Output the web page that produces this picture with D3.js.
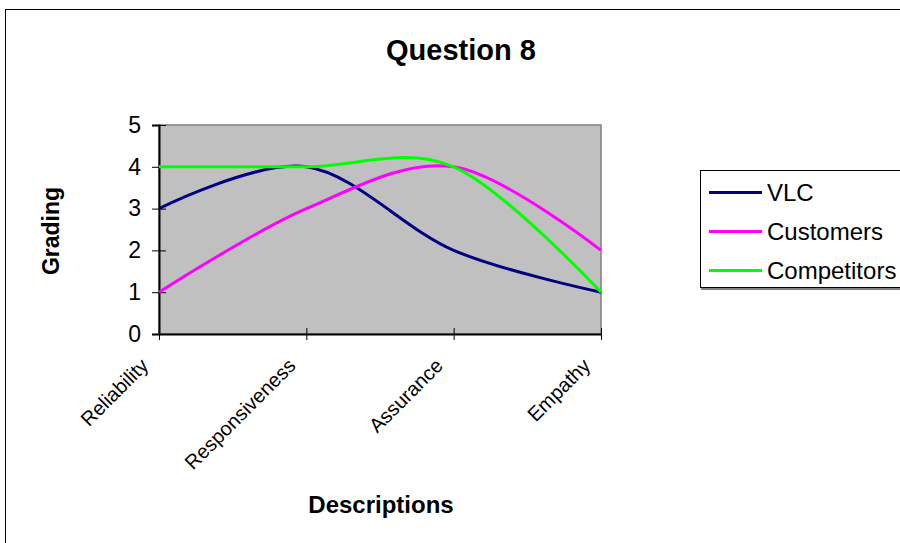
<!DOCTYPE html>
<html>
<head>
<meta charset="utf-8">
<script src="https://cdn.jsdelivr.net/npm/d3@7/dist/d3.min.js"></script>
<style>
  body { margin: 0; background: #fff; }
  svg { display: block; font-family: "Liberation Sans", Arial, sans-serif; }
</style>
</head>
<body>
<div id="chart"></div>
<script>
// data
const categories  = ['Reliability', 'Responsiveness', 'Assurance', 'Empathy'];
const vlc         = [3, 4, 2, 1];
const customers   = [1, 3, 4, 2];
const competitors = [4, 4, 4, 1];
const yTicks      = [0, 1, 2, 3, 4, 5];
const seriesNames = ['VLC', 'Customers', 'Competitors'];

const series = [
  { name: seriesNames[0], values: vlc,         color: '#000080' },
  { name: seriesNames[1], values: customers,   color: '#FF00FF' },
  { name: seriesNames[2], values: competitors, color: '#00FF00' }
];

const W = 900, H = 543;
const plot = { left: 159, right: 601, top: 125, bottom: 334 };

const svg = d3.select('#chart').append('svg')
  .attr('width', W)
  .attr('height', H);

// outer chart border (runs off the right and bottom)
svg.append('rect')
  .attr('x', 5.5).attr('y', 9.5)
  .attr('width', 1000).attr('height', 1000)
  .attr('fill', '#fff')
  .attr('stroke', '#000')
  .attr('stroke-width', 1);

// title
svg.append('text')
  .attr('x', 461).attr('y', 60)
  .attr('text-anchor', 'middle')
  .attr('font-size', '29px')
  .attr('font-weight', 'bold')
  .text('Question 8');

// scales
const x = d3.scalePoint()
  .domain(categories)
  .range([plot.left, plot.right]);

const y = d3.scaleLinear()
  .domain([0, 5])
  .range([plot.bottom, plot.top]);

// plot area
svg.append('rect')
  .attr('x', plot.left).attr('y', plot.top)
  .attr('width', plot.right - plot.left)
  .attr('height', plot.bottom - plot.top)
  .attr('fill', '#C0C0C0')
  .attr('stroke', '#808080')
  .attr('stroke-width', 1.5);

// y axis
const yAxis = svg.append('g')
  .attr('transform', `translate(${plot.left},0)`)
  .call(d3.axisLeft(y).tickValues(yTicks).tickSize(7).tickPadding(11).tickFormat(d3.format('d')));
yAxis.select('.domain').attr('stroke', '#000').attr('stroke-width', 2);
yAxis.selectAll('.tick line').attr('x1', 7).attr('x2', -7).attr('stroke', '#000');
yAxis.selectAll('.tick text')
  .attr('font-size', '23px')
  .attr('font-family', '"Liberation Sans", Arial, sans-serif')
  .attr('fill', '#000');

// x axis
const xAxis = svg.append('g')
  .attr('transform', `translate(0,${plot.bottom})`)
  .call(d3.axisBottom(x).tickSize(6).tickSizeOuter(0));
xAxis.select('.domain').attr('stroke', '#000').attr('stroke-width', 2);
xAxis.selectAll('.tick line').attr('y1', -6).attr('y2', 6).attr('stroke', '#000');
xAxis.selectAll('.tick text')
  .attr('font-size', '20px')
  .attr('font-family', '"Liberation Sans", Arial, sans-serif')
  .attr('fill', '#000')
  .attr('text-anchor', 'end')
  .attr('dy', null)
  .attr('y', 0)
  .attr('transform', 'translate(-10,33) rotate(-45)');

// lines
const line = d3.line()
  .x((d, i) => x(categories[i]))
  .y(d => y(d))
  .curve(d3.curveCatmullRom.alpha(0));

svg.selectAll('.series')
  .data(series)
  .enter().append('path')
    .attr('class', 'series')
    .attr('d', d => line(d.values))
    .attr('fill', 'none')
    .attr('stroke', d => d.color)
    .attr('stroke-width', 3)
    .attr('stroke-linejoin', 'round');

// axis titles
svg.append('text')
  .attr('transform', 'translate(59,231) rotate(-90)')
  .attr('text-anchor', 'middle')
  .attr('font-size', '23px')
  .attr('font-weight', 'bold')
  .text('Grading');

svg.append('text')
  .attr('x', 381).attr('y', 513)
  .attr('text-anchor', 'middle')
  .attr('font-size', '24px')
  .attr('font-weight', 'bold')
  .text('Descriptions');

// legend
const legend = svg.append('g');
legend.append('rect')
  .attr('x', 700.5).attr('y', 170.5)
  .attr('width', 300).attr('height', 117)
  .attr('fill', '#fff')
  .attr('stroke', '#000')
  .attr('stroke-width', 1);
legend.append('line')
  .attr('x1', 701).attr('x2', 900)
  .attr('y1', 289).attr('y2', 289)
  .attr('stroke', '#808080')
  .attr('stroke-width', 2);

const items = legend.selectAll('.item')
  .data(series)
  .enter().append('g')
    .attr('class', 'item')
    .attr('transform', (d, i) => `translate(0,${192.5 + i * 39})`);

items.append('line')
  .attr('x1', 709).attr('x2', 762)
  .attr('stroke', d => d.color)
  .attr('stroke-width', 3);

items.append('text')
  .attr('x', 767)
  .attr('y', 8)
  .attr('font-size', '24px')
  .text(d => d.name);
</script>
</body>
</html>
